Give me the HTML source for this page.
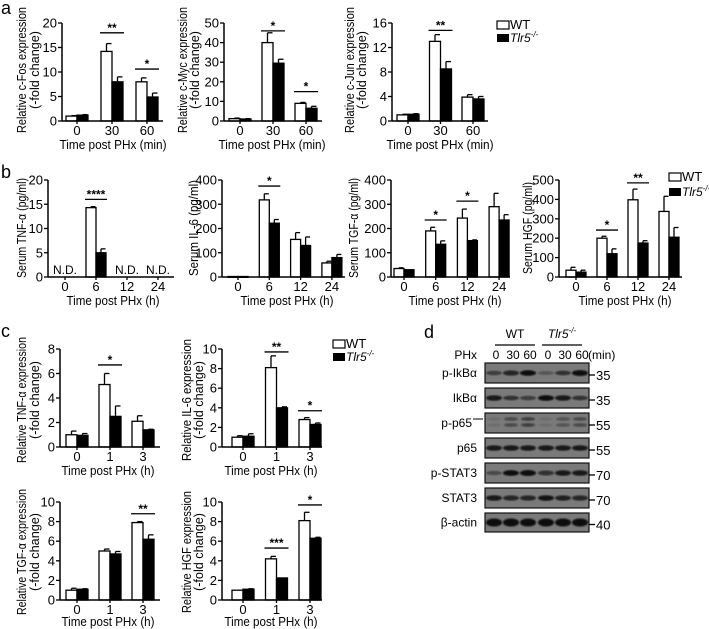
<!DOCTYPE html>
<html><head><meta charset="utf-8"><style>
html,body{margin:0;padding:0;background:#fff;}
svg{display:block;font-family:"Liberation Sans",sans-serif;}
</style></head><body>
<svg id="fig" width="709" height="629" viewBox="0 0 709 629" xmlns="http://www.w3.org/2000/svg">
<text x="1" y="14" font-size="18">a</text>
<text x="1" y="178" font-size="18">b</text>
<text x="1" y="337" font-size="18">c</text>
<text x="424" y="338" font-size="18">d</text>
</svg>
<script>
// ---- data arrays ----
const a1Cats=["0","30","60"], a1Ticks=[0,5,10,15,20];
const a1WT=[1,14.2,8], a1WTErr=[0.1,1.6,0.8], a1KO=[1.2,8,4.9], a1KOErr=[0.1,1,0.8];
const a1Sig=[[1,18,"**"],[2,10.6,"*"]];
const a2Cats=["0","30","60"], a2Ticks=[0,10,20,30,40,50];
const a2WT=[1.2,40,9], a2WTErr=[0.3,5,0.5], a2KO=[1,29.5,6.5], a2KOErr=[0.2,2,1];
const a2Sig=[[1,46,"*"],[2,15,"*"]];
const a3Cats=["0","30","60"], a3Ticks=[0,4,8,12,16];
const a3WT=[1,13,3.9], a3WTErr=[0.1,1.1,0.4], a3KO=[1.1,8.5,3.6], a3KOErr=[0.1,1.2,0.4];
const a3Sig=[[1,14.8,"**"]];
const b1Cats=["0","6","12","24"], b1Ticks=[0,5,10,15,20];
const b1WT=[0,14.3,0,0], b1WTErr=[0,0.2,0,0], b1KO=[0,5,0,0], b1KOErr=[0,0.8,0,0];
const b1Sig=[[1,16,"****"]]; const b1ND=[0,2,3];
const b2Cats=["0","6","12","24"], b2Ticks=[0,100,200,300,400];
const b2WT=[2,318,155,58], b2WTErr=[0,25,28,7], b2KO=[2,222,130,80], b2KOErr=[0,15,35,13];
const b2Sig=[[1,375,"*"]];
const b3Cats=["0","6","12","24"], b3Ticks=[0,100,200,300,400];
const b3WT=[35,190,243,290], b3WTErr=[3,15,37,55], b3KO=[30,135,150,235], b3KOErr=[0,14,3,22];
const b3Sig=[[1,235,"*"],[2,313,"*"]];
const b4Cats=["0","6","12","24"], b4Ticks=[0,100,200,300,400,500];
const b4WT=[35,200,398,338], b4WTErr=[15,10,55,78], b4KO=[25,120,175,205], b4KOErr=[10,25,12,50];
const b4Sig=[[1,242,"*"],[2,485,"**"]];
const c1Cats=["0","1","3"], c1Ticks=[0,2,4,6,8];
const c1WT=[1,5.1,2.1], c1WTErr=[0.3,0.9,0.45], c1KO=[0.95,2.5,1.4], c1KOErr=[0.15,0.85,0.05];
const c1Sig=[[1,6.7,"*"]];
const c2Cats=["0","1","3"], c2Ticks=[0,2,4,6,8,10];
const c2WT=[1,8.1,2.8], c2WTErr=[0.15,1.2,0.2], c2KO=[1.1,4,2.3], c2KOErr=[0.25,0.1,0.15];
const c2Sig=[[1,9.7,"**"],[2,3.7,"*"]];
const c3Cats=["0","1","3"], c3Ticks=[0,2,4,6,8,10];
const c3WT=[1,5,7.9], c3WTErr=[0.2,0.2,0.1], c3KO=[1.1,4.7,6.2], c3KOErr=[0.05,0.25,0.45];
const c3Sig=[[2,8.8,"**"]];
const c4Cats=["0","1","3"], c4Ticks=[0,2,4,6,8,10];
const c4WT=[1,4.2,8.1], c4WTErr=[0,0.25,0.85], c4KO=[1.1,2.25,6.3], c4KOErr=[0.05,0,0.1];
const c4Sig=[[1,5.3,"***"],[2,9.7,"*"]];
const blotRows=["p-IkBα","IkBα","p-p65","p65","p-STAT3","STAT3","β-actin"];
const blotMW=["35","35","55","55","70","70","40"];
const blotIntensity=[[0.4,0.7,0.9,0.2,0.5,0.95],[0.8,0.5,0.4,0.9,0.8,0.5],[0.1,0.5,0.6,0.1,0.4,0.5],[0.8,0.8,0.8,0.8,0.8,0.8],[0.3,0.9,1,0.6,0.8,0.8],[0.8,0.7,0.7,0.85,0.75,0.7],[1,1,1,1,1,1]];
const blotLanes=["0","30","60","0","30","60"];

const NS="http://www.w3.org/2000/svg";
const svg=document.getElementById('fig');
function mk(tag,attrs,parent){const e=document.createElementNS(NS,tag);for(const k in attrs)e.setAttribute(k,attrs[k]);(parent||svg).appendChild(e);return e;}

function drawChart(id,cfg,cats,wt,wtE,ko,koE,ticks,sig,nd){
  const g=mk('g',{});
  
  
  const max=ticks[ticks.length-1];
  const ys=v=>cfg.y0-(v/max)*(cfg.y0-cfg.yTop);
  const xc=i=>cfg.c0+i*cfg.sp;
  const bw=cfg.bw;
  for(let i=0;i<cats.length;i++){
    const skip=nd&&nd.indexOf(i)>=0;
    if(skip)continue;
    [[wt,wtE,'#fff',-1],[ko,koE,'#000',0]].forEach(([v,e,fill,off])=>{
      const x=xc(i)+off*bw, yt=ys(v[i]);
      if(e[i]>0){
        const ey=ys(v[i]+e[i]);
        const l=mk('line',{x1:x+bw/2,x2:x+bw/2,y1:yt,y2:ey,stroke:'#000','stroke-width':1.3},g);
        
        
        const c=mk('line',{x1:x+bw/2,x2:x+bw-0.5,y1:ey,y2:ey,stroke:'#000','stroke-width':1.3},g);
        
        
      }
      const r=mk('rect',{x:x,y:yt,width:bw,height:Math.max(cfg.y0-yt,0.8),fill:fill,stroke:'#000','stroke-width':1.3},g);
      
      
    });
  }
  if(nd){nd.forEach(i=>{
    const t=mk('text',{x:xc(i),y:cfg.y0-3,'font-size':12,'text-anchor':'middle',textLength:24,lengthAdjust:'spacingAndGlyphs'},g);
    t.textContent='N.D.';
    
    
  });}
  const ya=mk('line',{x1:cfg.ax,x2:cfg.ax,y1:cfg.yTop,y2:cfg.y0,stroke:'#000','stroke-width':1.5},g);
  
  
  const xa=mk('line',{x1:cfg.ax,x2:cfg.xEnd,y1:cfg.y0,y2:cfg.y0,stroke:'#000','stroke-width':1.5},g);
  
  
  ticks.forEach(t=>{
    const y=ys(t);
    mk('line',{x1:cfg.ax-4,x2:cfg.ax,y1:y,y2:y,stroke:'#000','stroke-width':1.3},g);
    const tx=mk('text',{x:cfg.ax-5,y:y+4.5,'font-size':13,'text-anchor':'end'},g);
    tx.textContent=t;
    
    
  });
  cats.forEach((c,i)=>{
    mk('line',{x1:xc(i),x2:xc(i),y1:cfg.y0,y2:cfg.y0+3,stroke:'#000','stroke-width':1.3},g);
    const tx=mk('text',{x:xc(i),y:cfg.y0+14,'font-size':13,'text-anchor':'middle'},g);
    tx.textContent=c;
    
    
  });
  const xt=mk('text',{x:cfg.tx,y:cfg.y0+(cfg.tOff||28),'font-size':13,'text-anchor':'middle',textLength:cfg.tl,lengthAdjust:'spacingAndGlyphs'},g);
  xt.textContent=cfg.xTitle;
  
  
  cfg.yTitle.forEach((s,k)=>{
    const t=mk('text',{transform:`translate(${cfg.yl[k]+1},${cfg.yc}) rotate(-90)`,'font-size':13,'text-anchor':'middle',textLength:cfg.ylen[k],lengthAdjust:'spacingAndGlyphs'},g);
    t.textContent=s;
    
    
  });
  sig.forEach(([i,lv,s])=>{
    const y=ys(lv);
    const l=mk('line',{x1:xc(i)-bw-1,x2:xc(i)+bw+1,y1:y,y2:y,stroke:'#000','stroke-width':1.3},g);
    
    
    const t=mk('text',{x:xc(i),y:y-1,'font-size':12,'font-weight':'bold','text-anchor':'middle'},g);
    t.textContent=s;
    
    
  });
}
function legend(x,y1,y2){
  const g=mk('g',{});
  
  
  mk('rect',{x:x,y:y1-8,width:12,height:8,fill:'#fff',stroke:'#000','stroke-width':1.2},g);
  const t1=mk('text',{x:x+13,y:y1,'font-size':13},g); t1.textContent='WT';
  
  
  mk('rect',{x:x,y:y2-8,width:12,height:8,fill:'#000'},g);
  const t2=mk('text',{x:x+13,y:y2,'font-size':12,'font-style':'italic'},g);
  t2.innerHTML='Tlr5<tspan font-size="8" dy="-5">-/-</tspan>';
  
  
}
const TA="Time post PHx (min)", TH="Time post PHx (h)", FC="(-fold change)";
drawChart('chart-c-fos',{ax:62,y0:121,yTop:23,c0:77,sp:35,bw:11,xEnd:163,tx:113,tl:107,xTitle:TA,yTitle:["Relative c-Fos expression",FC],yl:[25,38],yc:70,ylen:[126,78]},a1Cats,a1WT,a1WTErr,a1KO,a1KOErr,a1Ticks,a1Sig);
drawChart('chart-c-myc',{ax:224,y0:121,yTop:23,c0:240,sp:33,bw:11,xEnd:322,tx:272,tl:107,xTitle:TA,yTitle:["Relative c-Myc expression",FC],yl:[186,198],yc:70,ylen:[126,78]},a2Cats,a2WT,a2WTErr,a2KO,a2KOErr,a2Ticks,a2Sig);
drawChart('chart-c-jun',{ax:392,y0:121,yTop:23,c0:408,sp:32.5,bw:11,xEnd:488,tx:440,tl:107,xTitle:TA,yTitle:["Relative c-Jun expression",FC],yl:[353,365],yc:70,ylen:[126,78]},a3Cats,a3WT,a3WTErr,a3KO,a3KOErr,a3Ticks,a3Sig);
legend(497,29,42);
drawChart('chart-serum-tnf',{ax:48,y0:277,yTop:180,c0:65,sp:31,bw:10,xEnd:174,tx:113,tl:93,xTitle:TH,yTitle:["Serum TNF-α (pg/ml)"],yl:[25],yc:228,ylen:[100]},b1Cats,b1WT,b1WTErr,b1KO,b1KOErr,b1Ticks,b1Sig,b1ND);
drawChart('chart-serum-il6',{ax:222,y0:277,yTop:180,c0:238,sp:31.3,bw:10,xEnd:345,tx:287,tl:93,xTitle:TH,yTitle:["Serum IL-6 (pg/ml)"],yl:[197],yc:228,ylen:[96]},b2Cats,b2WT,b2WTErr,b2KO,b2KOErr,b2Ticks,b2Sig);
drawChart('chart-serum-tgf',{ax:391,y0:277,yTop:180,c0:404,sp:31.7,bw:10,xEnd:510,tx:455,tl:93,xTitle:TH,yTitle:["Serum TGF-α (pg/ml)"],yl:[357],yc:228,ylen:[100]},b3Cats,b3WT,b3WTErr,b3KO,b3KOErr,b3Ticks,b3Sig);
drawChart('chart-serum-hgf',{ax:559,y0:277,yTop:180,c0:576,sp:31,bw:10,xEnd:682,tx:625,tl:93,xTitle:TH,yTitle:["Serum HGF (pg/ml)"],yl:[531],yc:228,ylen:[92]},b4Cats,b4WT,b4WTErr,b4KO,b4KOErr,b4Ticks,b4Sig);
legend(669,181,196);
drawChart('chart-rel-tnf',{ax:60,y0:447,yTop:349,c0:77,sp:33,bw:11,xEnd:160,tx:108,tl:93,xTitle:TH,yTitle:["Relative TNF-α expression",FC],yl:[25,38],yc:400,ylen:[126,78]},c1Cats,c1WT,c1WTErr,c1KO,c1KOErr,c1Ticks,c1Sig);
drawChart('chart-rel-il6',{ax:222,y0:447,yTop:349,c0:243,sp:33.5,bw:11,xEnd:322,tx:271,tl:93,xTitle:TH,yTitle:["Relative IL-6 expression",FC],yl:[190,202],yc:400,ylen:[122,78]},c2Cats,c2WT,c2WTErr,c2KO,c2KOErr,c2Ticks,c2Sig);
legend(333,348,361);
drawChart('chart-rel-tgf',{ax:60,y0:600,yTop:502,c0:77,sp:33,bw:11,xEnd:160,tx:108,tl:93,tOff:26,xTitle:TH,yTitle:["Relative TGF-α expression",FC],yl:[25,38],yc:552,ylen:[126,78]},c3Cats,c3WT,c3WTErr,c3KO,c3KOErr,c3Ticks,c3Sig);
drawChart('chart-rel-hgf',{ax:222,y0:600,yTop:502,c0:243,sp:33.5,bw:11,xEnd:322,tx:271,tl:93,tOff:26,xTitle:TH,yTitle:["Relative HGF expression",FC],yl:[190,202],yc:552,ylen:[122,78]},c4Cats,c4WT,c4WTErr,c4KO,c4KOErr,c4Ticks,c4Sig);

// ---- western blot ----
const bg=mk('g',{});


const defs=mk('defs',{},bg);
const flt=mk('filter',{id:'blur'},defs);
mk('feGaussianBlur',{stdDeviation:0.9},flt);
const lx=[494,511,528,546,563,580];
function hdr(txt,x,x1,x2,it){
  const t=mk('text',{x:x,y:338,'font-size':12,'text-anchor':'middle','font-style':it?'italic':'normal'},bg);
  if(it)t.innerHTML='Tlr5<tspan font-size="8" dy="-5">-/-</tspan>';else t.textContent=txt;
  
  
  mk('line',{x1:x1,x2:x2,y1:345,y2:345,stroke:'#000','stroke-width':1.2},bg);
}
hdr('WT',515,495,535,false);
hdr('Tlr5',562,542,582,true);
const phx=mk('text',{x:477,y:359,'font-size':12,'text-anchor':'end'},bg);
phx.textContent='PHx';


blotLanes.forEach((s,i)=>{
  const t=mk('text',{x:lx[i]+2,y:359,'font-size':12,'text-anchor':'middle'},bg);
  t.textContent=s;
  
  
});
const mn=mk('text',{x:588,y:359,'font-size':12},bg);
mn.textContent='(min)';


blotRows.forEach((name,r)=>{
  const top=363+r*25, h=r==6?19:20;
  const rect=mk('rect',{x:485,y:top,width:104,height:h,fill:'#7a7a7a',stroke:'#111','stroke-width':1.2},bg);
  
  
  blotIntensity[r].forEach((v,i)=>{
    const thick=r==6?8:3.5+v*2.5;
    if(r==2){
      [top+6,top+12].forEach(yy=>{
        const b=mk('ellipse',{cx:lx[i],cy:yy,rx:7,ry:1.7,fill:'#111','fill-opacity':v,filter:'url(#blur)'},bg);
        
        
      });
    } else {
      const b=mk('ellipse',{cx:lx[i],cy:top+h/2,rx:8,ry:thick/2,fill:'#0a0a0a','fill-opacity':Math.min(1,v+0.1),filter:'url(#blur)'},bg);
      
      
    }
  });
  const lab=mk('text',{x:r==2?472:477,y:top+h/2+4,'font-size':12,'text-anchor':'end'},bg);
  lab.textContent=name;
  
  
  if(r==2){mk('line',{x1:473,x2:483,y1:top+6,y2:top+6,stroke:'#000','stroke-width':1},bg);}
  mk('line',{x1:589,x2:595,y1:top+h/2+2,y2:top+h/2+2,stroke:'#000','stroke-width':1.3},bg);
  const mw=mk('text',{x:596,y:top+h/2+7,'font-size':13},bg);
  mw.textContent=blotMW[r];
  
  
});
</script>
</body></html>
